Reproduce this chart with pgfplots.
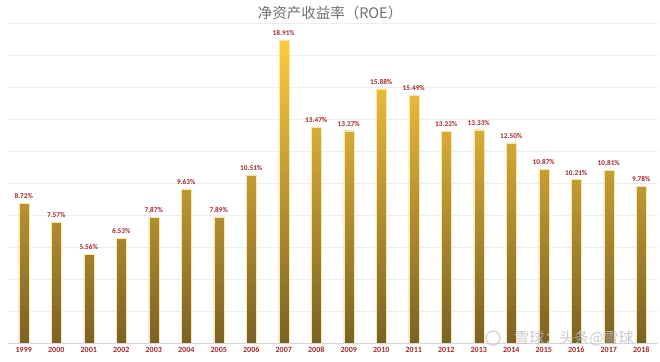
\documentclass[border=0pt]{standalone}
\usepackage{pgfplots}
\pgfplotsset{compat=1.18}
\usepackage{fontspec}
\setmainfont{Carlito}
\newfontfamily\cjk{Noto Sans CJK SC}
\definecolor{bartop}{HTML}{FCCB3E}
\definecolor{barmid}{HTML}{DDB038}
\definecolor{barbot}{HTML}{7A6226}
\definecolor{lblred}{HTML}{A3262A}
\definecolor{gridc}{HTML}{EDEDED}
\definecolor{titlec}{HTML}{707070}
\begin{document}
\begin{tikzpicture}
\useasboundingbox (0,0) rectangle (660bp,362bp);
\begin{axis}[
  at={(7.5bp,19bp)}, anchor=south west,
  scale only axis, width=650bp, height=320bp,
  xmin=-0.5, xmax=19.5, ymin=0, ymax=20,
  axis line style={draw=none},
  ytick={0,2,...,20}, yticklabels={},
  ymajorgrids, grid style={gridc, line width=0.6pt},
  major tick length=0pt,
  xtick={0,...,19},
  xticklabels={1999,2000,2001,2002,2003,2004,2005,2006,2007,2008,2009,2010,2011,2012,2013,2014,2015,2016,2017,2018},
  xticklabel style={font=\fontsize{8bp}{9bp}\selectfont\bfseries, text=lblred, yshift=-0.5bp},
  clip=false,
]
\addplot[ybar, bar width=10bp, draw=bartop!45!white, line width=0.3pt, top color=bartop, middle color=barmid, bottom color=barbot,
  nodes near coords={\pgfmathprintnumber[fixed,precision=2,fixed zerofill,assume math mode=true]{\pgfplotspointmeta}\%},
  nodes near coords style={font=\fontsize{7.3bp}{8bp}\selectfont\bfseries, text=lblred, yshift=1bp}]
coordinates {(0,8.72) (1,7.57) (2,5.56) (3,6.53) (4,7.87) (5,9.63) (6,7.89) (7,10.51) (8,18.91) (9,13.47) (10,13.27) (11,15.88) (12,15.49) (13,13.22) (14,13.33) (15,12.50) (16,10.87) (17,10.21) (18,10.81) (19,9.78)};
\draw[gridc!80!gray, line width=0.6pt] (axis cs:-0.5,0) -- (axis cs:19.5,0);
\end{axis}
\node[anchor=center, text=titlec, font=\cjk\fontsize{14.5bp}{16bp}\selectfont] at (330bp,349bp) {净资产收益率（ROE）};
\node[anchor=center, inner sep=0pt, text=gray!50, opacity=0.85, font=\cjk\fontsize{15bp}{16bp}\selectfont] at (574bp,24bp) {雪球：头条@雪球};
\node[anchor=center, draw=gray!45, line width=1.2pt, circle, inner sep=5bp, opacity=0.85] at (493bp,24bp) {};
\end{tikzpicture}
\end{document}
